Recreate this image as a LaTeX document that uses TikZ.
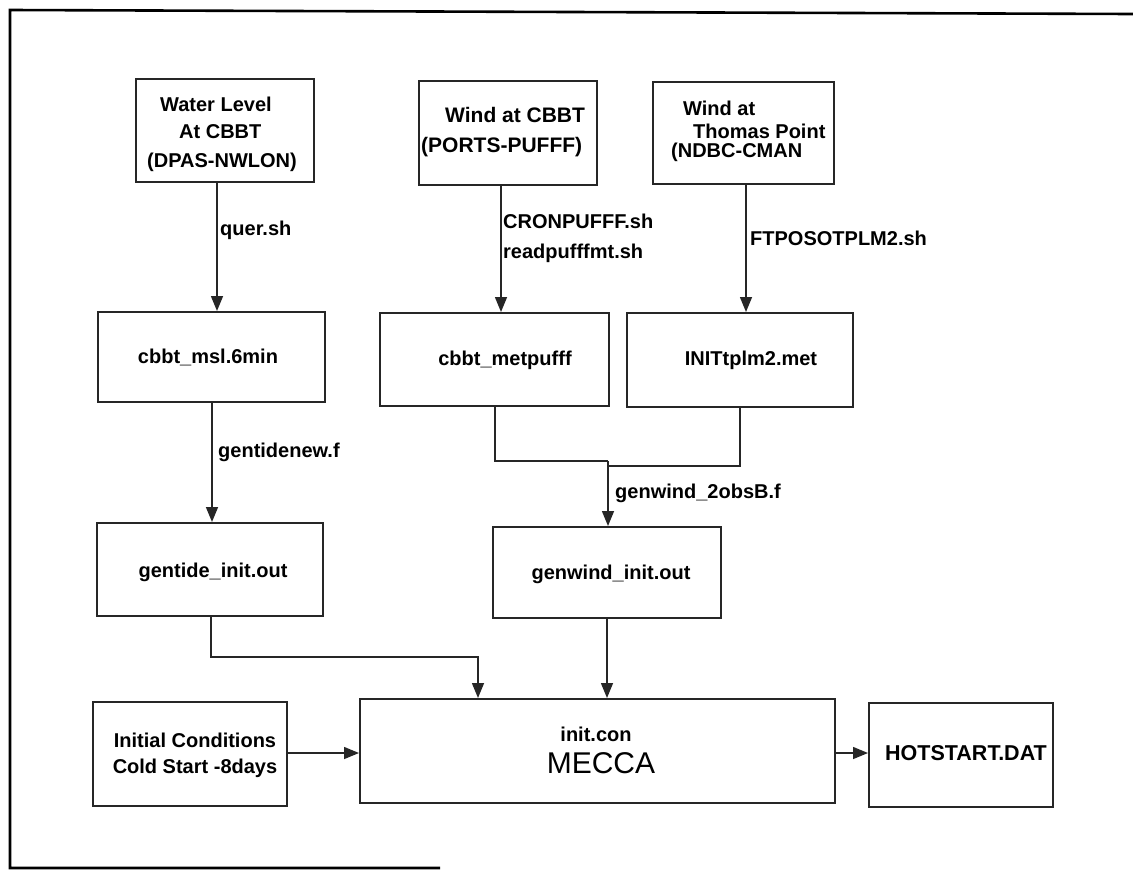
\documentclass[tikz,border=0pt]{standalone}
\usepackage{fontspec}
\setmainfont{Liberation Sans}
\usetikzlibrary{arrows.meta}
\begin{document}
\begin{tikzpicture}[x=1pt,y=-1pt,
  box/.style={draw=black!85, line width=2pt, rectangle, inner sep=0pt},
  txt/.style={inner sep=0pt, font=\bfseries\fontsize{20}{24}\selectfont, text=black},
  conn/.style={draw=black!85, line width=1.5pt},
  arr/.style={conn, -{Triangle[length=15pt,width=12pt]}},
  frame/.style={draw=black, line width=2.6pt}]
\useasboundingbox (0,0) rectangle (1133,871);
% frame
\draw[frame] (440,868) -- (10,868) -- (10,10) -- (1133,14);
% boxes
\node[box, minimum width=178pt, minimum height=103pt] (wl) at (225,130.5) {};
\node[box, minimum width=178pt, minimum height=104pt] (wc) at (508,133) {};
\node[box, minimum width=181pt, minimum height=102pt] (wt) at (743.5,133) {};
\node[box, minimum width=227pt, minimum height=90pt] (msl) at (211.5,357) {};
\node[box, minimum width=229pt, minimum height=93pt] (met) at (494.5,359.5) {};
\node[box, minimum width=226pt, minimum height=94pt] (tp) at (740,360) {};
\node[box, minimum width=226pt, minimum height=93pt] (gt) at (210,569.5) {};
\node[box, minimum width=228pt, minimum height=91pt] (gw) at (607,572.5) {};
\node[box, minimum width=194pt, minimum height=104pt] (ic) at (190,754) {};
\node[box, minimum width=475pt, minimum height=104pt] (mecca) at (597.5,751) {};
\node[box, minimum width=184pt, minimum height=104pt] (hot) at (961,755) {};
% box texts
\node[txt, anchor=base west] (wl1) at (160,111) {Water Level};
\node[txt, anchor=base west] (wl2) at (179,138) {At CBBT};
\node[txt, anchor=base west] (wl3) at (147,167) {(DPAS-NWLON)};
\node[txt, anchor=base west, font=\bfseries\fontsize{21}{24}\selectfont] (wc1) at (445,122) {Wind at CBBT};
\node[txt, anchor=base west, font=\bfseries\fontsize{21}{24}\selectfont] (wc2) at (421,152) {(PORTS-PUFFF)};
\node[txt, anchor=base west] (wt1) at (683,115) {Wind at};
\node[txt, anchor=base west] (wt2) at (693,138) {Thomas Point};
\node[txt, anchor=base west] (wt3) at (671,157) {(NDBC-CMAN};
\node[txt, anchor=base] (msl1) at (208,363) {cbbt\_msl.6min};
\node[txt, anchor=base] (met1) at (505,365) {cbbt\_metpufff};
\node[txt, anchor=base] (tp1) at (751,365) {INITtplm2.met};
\node[txt, anchor=base] (gt1) at (213,577) {gentide\_init.out};
\node[txt, anchor=base] (gw1) at (611,579) {genwind\_init.out};
\node[txt, anchor=base] (ic1) at (195,747) {Initial Conditions};
\node[txt, anchor=base] (ic2) at (195,773) {Cold Start -8days};
\node[txt, anchor=base] (mc1) at (596,741) {init.con};
\node[txt, anchor=base, font=\fontsize{30}{34}\selectfont] (mc2) at (601,773) {MECCA};
\node[txt, anchor=base, font=\bfseries\fontsize{21.5}{24}\selectfont] (hot1) at (966,760) {HOTSTART.DAT};
% connector labels
\node[txt, anchor=base west] (l1) at (220,235) {quer.sh};
\node[txt, anchor=base west] (l2) at (503,228) {CRONPUFFF.sh};
\node[txt, anchor=base west] (l3) at (503,258) {readpufffmt.sh};
\node[txt, anchor=base west] (l4) at (750,245) {FTPOSOTPLM2.sh};
\node[txt, anchor=base west] (l5) at (218,457) {gentidenew.f};
\node[txt, anchor=base west] (l6) at (615,498) {genwind\_2obsB.f};
% connector coordinates
\coordinate (c1) at (217,0);
\coordinate (c2) at (501,0);
\coordinate (c3) at (746,0);
\coordinate (c4) at (212,0);
\coordinate (j1) at (495,461);
\coordinate (j2) at (608,461);
\coordinate (j3) at (740,466);
\coordinate (j4) at (608,466);
\coordinate (k1) at (211,657);
\coordinate (k2) at (478,657);
\coordinate (c7) at (607,0);
\coordinate (r1) at (0,753);
% connectors
\draw[arr] (wl.south -| c1) -- (msl.north -| c1);
\draw[arr] (wc.south -| c2) -- (met.north -| c2);
\draw[arr] (wt.south -| c3) -- (tp.north -| c3);
\draw[arr] (msl.south -| c4) -- (gt.north -| c4);
\draw[conn] (met.south -| j1) -- (j1) -- (j2);
\draw[conn] (tp.south -| j3) -- (j3) -- (j4);
\draw[arr] (j2) -- (gw.north -| j2);
\draw[arr] (gt.south -| k1) -- (k1) -- (k2) -- (mecca.north -| k2);
\draw[arr] (gw.south -| c7) -- (mecca.north -| c7);
\draw[arr] (ic.east |- r1) -- (mecca.west |- r1);
\draw[arr] (mecca.east |- r1) -- (hot.west |- r1);
\end{tikzpicture}
\end{document}
